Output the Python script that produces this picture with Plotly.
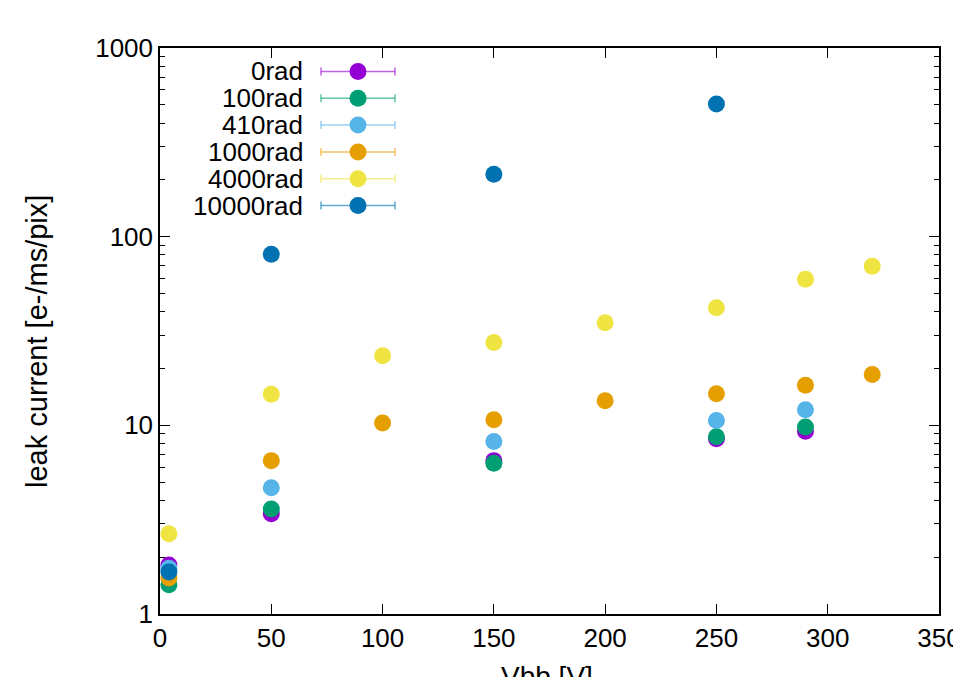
import plotly.graph_objects as go

labels = ["0rad", "100rad", "410rad", "1000rad", "4000rad", "10000rad"]
colors = ["#9400d3", "#009e73", "#56b4e9", "#e69f00", "#f0e442", "#0072b2"]

x_0 = [4, 50, 150, 250, 290]
y_0 = [1.82, 3.4, 6.5, 8.5, 9.3]
x_100 = [4, 50, 150, 250, 290]
y_100 = [1.43, 3.6, 6.3, 8.7, 9.8]
x_410 = [4, 50, 150, 250, 290]
y_410 = [1.75, 4.67, 8.2, 10.6, 12.1]
x_1000 = [4, 50, 100, 150, 200, 250, 290, 320]
y_1000 = [1.55, 6.5, 10.3, 10.7, 13.5, 14.7, 16.3, 18.6]
x_4000 = [4, 50, 100, 150, 200, 250, 290, 320]
y_4000 = [2.66, 14.6, 23.4, 27.5, 35, 42, 59.4, 69.6]
x_10000 = [4, 50, 150, 250]
y_10000 = [1.67, 80.7, 214, 505]

xs = [x_0, x_100, x_410, x_1000, x_4000, x_10000]
ys = [y_0, y_100, y_410, y_1000, y_4000, y_10000]

x_ticks = [0, 50, 100, 150, 200, 250, 300, 350]
y_ticks = [1, 10, 100, 1000]

x_title = "Vbb [V]"
y_title = "leak current [e-/ms/pix]"

FONT = "Liberation Sans, Arial, sans-serif"
FS = 26

fig = go.Figure()
for lab, col, xv, yv in zip(labels, colors, xs, ys):
    fig.add_trace(go.Scatter(x=xv, y=yv, mode="markers", name=lab,
                             marker=dict(color=col, size=17, line=dict(width=0)),
                             showlegend=False))

# page offset of the figure (browser body margin)
OFF = 8
FIG_W, FIG_H = 961 - 2 * OFF, 685 - 2 * OFF
# plot area edges in page pixels
L, R, T, B = 160, 939, 48, 614
W, H = R - L, B - T
def px(xp): return (xp - L) / W
def py(yp): return (B - yp) / H

shapes = []
annotations = []
row0, dy = 71.5, 26.8
for i, (lab, col) in enumerate(zip(labels, colors)):
    yc = py(row0 + i * dy)
    annotations.append(dict(x=px(305), y=yc, xref="paper", yref="paper", text=lab,
                            showarrow=False, xanchor="right", yanchor="middle",
                            font=dict(family=FONT, size=FS, color="black")))
    shapes.append(dict(type="line", xref="paper", yref="paper", x0=px(321), x1=px(395),
                       y0=yc, y1=yc, line=dict(color=col, width=1.5), opacity=0.6))
    for xe in (321, 395):
        shapes.append(dict(type="line", xref="paper", yref="paper",
                           ysizemode="pixel", yanchor=yc, x0=px(xe), x1=px(xe), y0=-4, y1=4,
                           line=dict(color=col, width=1.5), opacity=0.6))
    shapes.append(dict(type="circle", xref="paper", yref="paper", xsizemode="pixel",
                       ysizemode="pixel", xanchor=px(358), yanchor=yc,
                       x0=-8.5, x1=8.5, y0=-8.5, y1=8.5,
                       fillcolor=col, line=dict(width=0)))

# axis titles placed as annotations (page pixel positions)
annotations.append(dict(x=px(37), y=py(342), xref="paper", yref="paper", text=y_title,
                        textangle=-90, showarrow=False, xanchor="center", yanchor="middle",
                        font=dict(family=FONT, size=29, color="black")))
annotations.append(dict(x=px(547), y=py(659), xref="paper", yref="paper", text=x_title,
                        showarrow=False, xanchor="center", yanchor="top",
                        font=dict(family=FONT, size=28, color="black")))

axis_common = dict(showline=True, linecolor="black", linewidth=1.5, mirror="allticks",
                   ticks="inside", ticklen=10, tickwidth=1, tickcolor="black",
                   showgrid=False, zeroline=False, automargin=False,
                   ticklabeloverflow="allow",
                   tickfont=dict(family=FONT, size=FS, color="black"))

fig.update_layout(
    width=FIG_W, height=FIG_H,
    margin=dict(l=L - OFF, r=FIG_W - (R - OFF), t=T - OFF, b=FIG_H - (B - OFF)),
    paper_bgcolor="white", plot_bgcolor="white",
    font=dict(family=FONT, size=FS, color="black"),
    xaxis=dict(range=[0, 350], tickmode="array", tickvals=x_ticks,
               ticktext=[str(v) for v in x_ticks], **axis_common),
    yaxis=dict(type="log", range=[0, 3], tickmode="array", tickvals=y_ticks,
               ticktext=[str(v) for v in y_ticks],
               minor=dict(ticks="inside", ticklen=5, tickcolor="black",
                          tickvals=[m * 10 ** d for d in range(3) for m in range(2, 10)]),
               **axis_common),
    shapes=shapes, annotations=annotations, showlegend=False,
)

fig.write_html("out.html")
